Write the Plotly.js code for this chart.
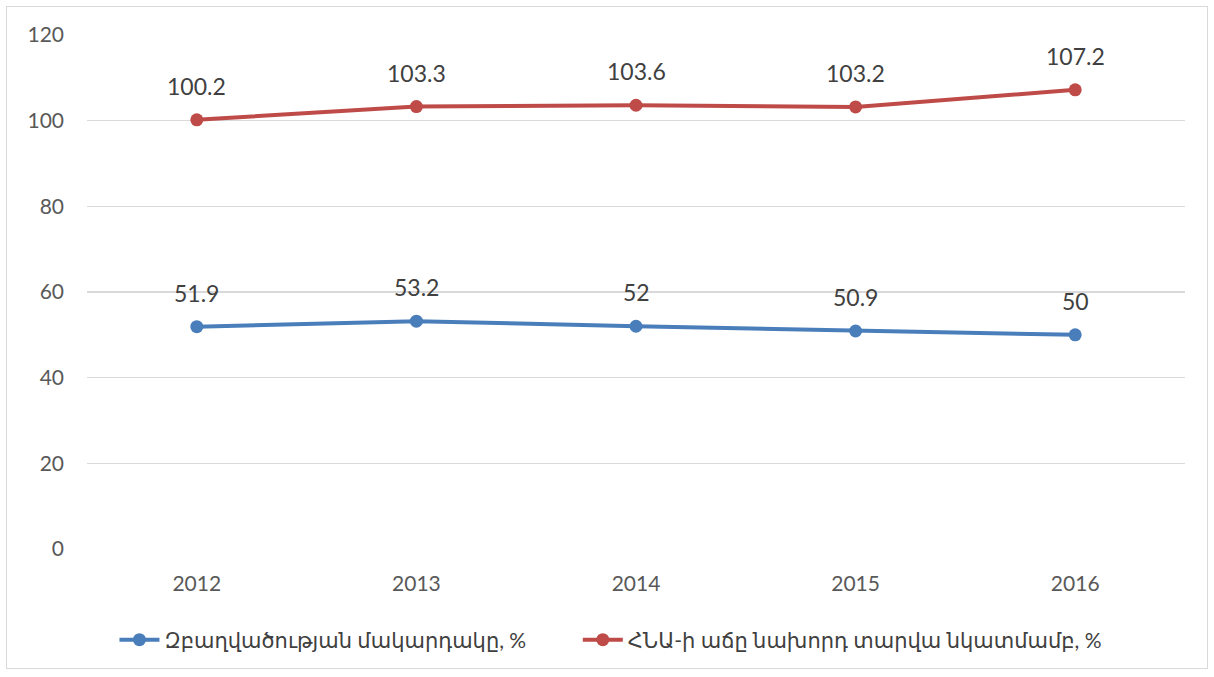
<!DOCTYPE html>
<html>
<head>
<meta charset="utf-8">
<script src="https://cdn.plot.ly/plotly-3.0.1.min.js"></script>
<style>
html,body{margin:0;padding:0;background:#fff;}
#wrap{position:relative;width:1214px;height:677px;}
#chart{width:1214px;height:677px;}
#frame{position:absolute;left:6px;top:6px;width:1202px;height:663px;border:1.5px solid #d9d9d9;pointer-events:none;box-sizing:border-box;}
</style>
</head>
<body>
<div id="wrap"><div id="chart"></div><div id="frame"></div></div>
<script>
const years = ['2012','2013','2014','2015','2016'];
const employment = [51.9, 53.2, 52, 50.9, 50];
const gdpGrowth = [100.2, 103.3, 103.6, 103.2, 107.2];
const seriesNames = ['Զբաղվածության մակարդակը, %', 'ՀՆԱ-ի աճը նախորդ տարվա նկատմամբ, %'];
const yTicks = [0, 20, 40, 60, 80, 100, 120];

const FONT = 'Lato, "DejaVu Sans", "Noto Sans", sans-serif';
const BLUE = '#4A7EBB';
const RED = '#BE4B48';

const traces = [
  {x: years, y: employment, name: seriesNames[0], type: 'scatter', mode: 'lines+markers',
   line: {color: BLUE, width: 4}, marker: {color: BLUE, size: 13}, legend: 'legend'},
  {x: years, y: gdpGrowth, name: seriesNames[1], type: 'scatter', mode: 'lines+markers',
   line: {color: RED, width: 4}, marker: {color: RED, size: 13}, legend: 'legend2'}
];

const annotations = [];
[employment, gdpGrowth].forEach(arr => {
  arr.forEach((v, i) => {
    annotations.push({x: i, y: v, xref: 'x', yref: 'y', text: String(v), showarrow: false,
      yshift: 34, font: {family: FONT, size: 23, color: '#404040'}});
  });
});

const legFont = {family: FONT, size: 21, color: '#404040'};
const layout = {
  width: 1214, height: 677,
  margin: {l: 87, r: 29, t: 35, b: 128},
  paper_bgcolor: '#fff', plot_bgcolor: '#fff',
  showlegend: true,
  legend: {orientation: 'h', x: 0.025, xanchor: 'left', y: -0.177, yanchor: 'middle',
    font: legFont, itemwidth: 40},
  legend2: {orientation: 'h', x: 0.447, xanchor: 'left', y: -0.177, yanchor: 'middle',
    font: legFont, itemwidth: 40},
  xaxis: {type: 'category', range: [-0.5, 4.5], showgrid: false, zeroline: false,
    showline: false, ticks: '', tickfont: {family: FONT, size: 21, color: '#595959'}, ticklabelstandoff: 20},
  yaxis: {range: [0, 120], tickvals: yTicks, showgrid: true, gridcolor: '#d9d9d9', gridwidth: 1.3,
    zeroline: false, showline: false, ticks: '', tickfont: {family: FONT, size: 21, color: '#595959'},
    ticklabelstandoff: 22},
  annotations: annotations,
  font: {family: FONT}
};

Plotly.newPlot('chart', traces, layout, {displayModeBar: false, staticPlot: true});
</script>
</body>
</html>
